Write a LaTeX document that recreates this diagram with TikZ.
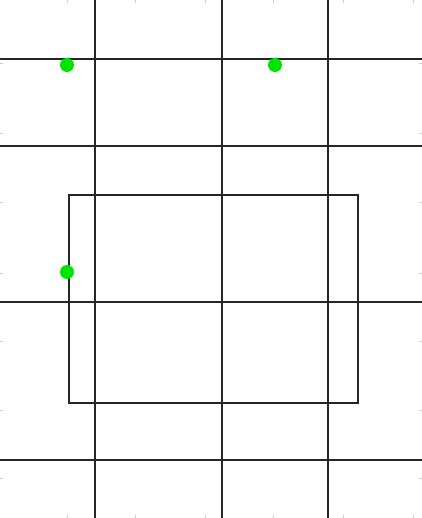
\documentclass[tikz,border=0pt]{standalone}
\begin{document}
\begin{tikzpicture}[
    x=0.02cm, y=-0.02cm,     % 1 unit = 1 px
    gridline/.style={black!85, line width=1.3pt},
    tickmark/.style={black!20, line width=0.4pt},
    greendot/.style={fill=green!90!black}
]

    % --- 1. bounding box ---
    \useasboundingbox (0,0) rectangle (422,518);

    % --- 2. faint ticks at the edges ---
    \foreach \x in {67,135,205,273,343,413} {
        \draw[tickmark] (\x,0) -- (\x,3);
        \draw[tickmark] (\x,518) -- (\x,515);
    }
    \foreach \y in {63,133,202,273,341,410,478} {
        \draw[tickmark] (0,\y) -- (3,\y);
        \draw[tickmark] (422,\y) -- (419,\y);
    }

    % --- 3. grid lines ---
    \foreach \x in {95,222,328}
        \draw[gridline] (\x,0) -- (\x,518);
    \foreach \y in {59,146,302,460}
        \draw[gridline] (0,\y) -- (422,\y);

    % --- 4. rectangle ---
    \draw[gridline] (69,195) rectangle (358,403);

    % --- 5. green dots ---
    \foreach \p in {(67,65),(275,65),(67,272)}
        \fill[greendot] \p circle (7);

\end{tikzpicture}
\end{document}
